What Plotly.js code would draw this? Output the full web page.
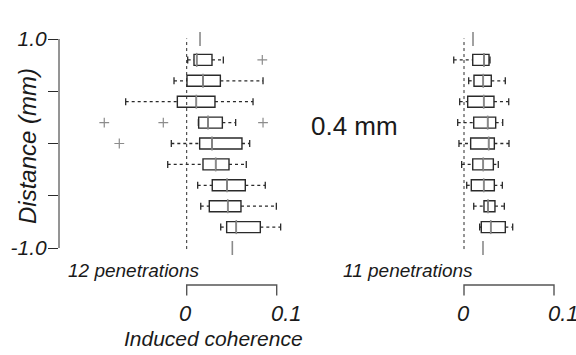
<!DOCTYPE html>
<html>
<head>
<meta charset="utf-8">
<script src="https://cdn.plot.ly/plotly-3.0.1.min.js"></script>
<style>html,body{margin:0;padding:0;background:#fff;}#chart{width:576px;height:355px;}</style>
</head>
<body>
<div id="chart"></div>
<script>
// ---- Left panel (12 penetrations) ----
const leftPos = [0.8, 0.6, 0.4, 0.2, 0.0, -0.2, -0.4, -0.6, -0.8];
const leftLo  = [0.0011, -0.0141, -0.0678, 0.0130, -0.0171, -0.0211, 0.0122, 0.0156, 0.0378];
const leftQ1  = [0.0081, 0.0003, -0.0104, 0.0133, 0.0144, 0.0181, 0.0284, 0.0251, 0.0444];
const leftMed = [0.0111, 0.0181, 0.0107, 0.0237, 0.0281, 0.0322, 0.0448, 0.0456, 0.0551];
const leftQ3  = [0.0281, 0.0374, 0.0314, 0.0396, 0.0614, 0.0470, 0.0651, 0.0603, 0.0818];
const leftHi  = [0.0407, 0.0848, 0.0737, 0.0544, 0.0700, 0.0662, 0.0873, 0.0996, 0.1044];
const leftSinglePos = [1.0, -1.0];
const leftSingleVal = [0.0148, 0.0507];
const leftOutX = [0.0840, -0.0916, -0.0260, 0.0848, -0.0749];
const leftOutY = [0.8, 0.2, 0.2, 0.2, 0.0];

// ---- Right panel (11 penetrations) ----
const rightPos = [0.8, 0.6, 0.4, 0.2, 0.0, -0.2, -0.4, -0.6, -0.8];
const rightLo  = [-0.0114, 0.0052, -0.0048, -0.0070, -0.0056, -0.0026, 0.0030, 0.0108, 0.0174];
const rightQ1  = [0.0097, 0.0111, 0.0041, 0.0108, 0.0074, 0.0097, 0.0081, 0.0222, 0.0192];
const rightMed = [0.0222, 0.0214, 0.0219, 0.0263, 0.0274, 0.0214, 0.0219, 0.0267, 0.0297];
const rightQ3  = [0.0278, 0.0303, 0.0333, 0.0352, 0.0337, 0.0326, 0.0337, 0.0344, 0.0459];
const rightHi  = [0.0289, 0.0459, 0.0497, 0.0430, 0.0500, 0.0381, 0.0426, 0.0448, 0.0541];
const rightSinglePos = [1.0, -1.0];
const rightSingleVal = [0.0100, 0.0211];

const yTickVals = [1.0, 0.5, 0.0, -0.5, -1.0];
const yTickText = ['1.0', '', '', '', '-1.0'];
const panelLabels = ['12 penetrations', '11 penetrations'];
const scaleTicks = ['0', '0.1'];

const FONT = 'Liberation Sans, Arial, Helvetica, sans-serif';
const DARK = '#2a2a2a';
const MEDGRAY = '#8a8a8a';

function panelTraces(pos, lo, q1, med, q3, hi, sPos, sVal, xa) {
  const traces = [];
  const wx = [], wy = [];
  pos.forEach((p, i) => {
    wx.push(lo[i], q1[i], null, q3[i], hi[i], null);
    wy.push(p, p, null, p, p, null);
  });
  traces.push({type: 'scatter', mode: 'lines', x: wx, y: wy, xaxis: xa, yaxis: 'y',
    line: {color: DARK, width: 1.3, dash: '3px,3px'}, hoverinfo: 'skip'});
  traces.push({type: 'scatter', mode: 'markers', x: lo.concat(hi), y: pos.concat(pos), xaxis: xa, yaxis: 'y',
    marker: {symbol: 'line-ns', size: 5, line: {color: DARK, width: 1.3}}, hoverinfo: 'skip'});
  traces.push({type: 'box', orientation: 'h', y: pos, q1: q1, median: med, q3: q3,
    lowerfence: q1, upperfence: q3, xaxis: xa, yaxis: 'y', width: 0.105,
    boxpoints: false, fillcolor: 'rgba(255,255,255,1)', line: {color: DARK, width: 1.4}, hoverinfo: 'skip'});
  traces.push({type: 'scatter', mode: 'markers', x: med.concat(sVal), y: pos.concat(sPos), xaxis: xa, yaxis: 'y',
    marker: {symbol: 'line-ns', size: 10, line: {color: MEDGRAY, width: 1.6}}, hoverinfo: 'skip'});
  return traces;
}

const data = []
  .concat(panelTraces(leftPos, leftLo, leftQ1, leftMed, leftQ3, leftHi, leftSinglePos, leftSingleVal, 'x'))
  .concat(panelTraces(rightPos, rightLo, rightQ1, rightMed, rightQ3, rightHi, rightSinglePos, rightSingleVal, 'x2'));
data.push({type: 'scatter', mode: 'markers', x: leftOutX, y: leftOutY, xaxis: 'x', yaxis: 'y',
  marker: {symbol: 'cross-thin', size: 7, line: {color: '#8c8c8c', width: 1.2}}, hoverinfo: 'skip'});

const W = 576, H = 355;
const py = v => (H - v) / H;
const px = v => v / W;

const shapes = [];
shapes.push({type: 'line', xref: 'x domain', yref: 'y', x0: 0, x1: 0, y0: -1.0, y1: 1.0, line: {color: DARK, width: 1}});
['x', 'x2'].forEach(xr => {
  shapes.push({type: 'line', xref: xr, yref: 'y', x0: 0, x1: 0, y0: -1.01, y1: 1.005,
    line: {color: DARK, width: 1, dash: 'dot'}});
  shapes.push({type: 'path', xref: xr, yref: 'paper',
    path: `M 0,${py(295.5)} L 0,${py(285)} L 0.1,${py(285)} L 0.1,${py(295.5)}`,
    line: {color: '#555', width: 1.4}});
});

const ital = (size) => ({family: FONT, size: size, color: '#1a1a1a', style: 'italic'});
const annotations = [
  {text: 'Distance (mm)', xref: 'paper', yref: 'paper', x: px(27), y: py(146), textangle: -90,
    showarrow: false, xanchor: 'center', yanchor: 'middle', font: ital(24)},
  {text: panelLabels[0], xref: 'paper', yref: 'paper', x: px(66), y: py(270), showarrow: false,
    xanchor: 'left', yanchor: 'middle', font: ital(19)},
  {text: panelLabels[1], xref: 'paper', yref: 'paper', x: px(341), y: py(270), showarrow: false,
    xanchor: 'left', yanchor: 'middle', font: ital(19)},
  {text: '0.4 mm', xref: 'paper', yref: 'paper', x: px(309), y: py(126), showarrow: false,
    xanchor: 'left', yanchor: 'middle', font: {family: FONT, size: 26, color: '#1a1a1a'}},
  {text: 'Induced coherence', xref: 'paper', yref: 'paper', x: px(213), y: py(338), showarrow: false,
    xanchor: 'center', yanchor: 'middle', font: ital(21)}
];
['x', 'x2'].forEach(xr => {
  annotations.push({text: scaleTicks[0], xref: xr, yref: 'paper', x: 0, y: py(313), showarrow: false,
    xanchor: 'center', yanchor: 'middle', xshift: -1, font: ital(22)});
  annotations.push({text: scaleTicks[1], xref: xr, yref: 'paper', x: 0.1, y: py(313), showarrow: false,
    xanchor: 'left', yanchor: 'middle', xshift: -8, font: ital(22)});
});

const layout = {
  width: W, height: H,
  margin: {l: 0, r: 0, t: 0, b: 0},
  paper_bgcolor: '#fff', plot_bgcolor: 'rgba(0,0,0,0)',
  showlegend: false,
  font: {family: FONT, color: '#1a1a1a'},
  xaxis: {domain: [px(59), px(310)], range: [(59 - 186.7) / 900, (310 - 186.7) / 900], anchor: 'y',
    visible: false, fixedrange: true},
  xaxis2: {domain: [px(400), 1], range: [(400 - 464) / 900, (576 - 464) / 900], anchor: 'y',
    visible: false, fixedrange: true},
  yaxis: {domain: [py(268.9), py(18.1)], range: [-1.2, 1.2], anchor: 'x',
    showgrid: false, zeroline: false, showline: false,
    ticks: 'outside', ticklen: 10, tickwidth: 1, tickcolor: DARK,
    tickvals: yTickVals, ticktext: yTickText, tickfont: ital(21), ticklabelstandoff: -3, fixedrange: true},
  shapes: shapes,
  annotations: annotations
};

Plotly.newPlot('chart', data, layout, {staticPlot: true, displayModeBar: false});
</script>
</body>
</html>
